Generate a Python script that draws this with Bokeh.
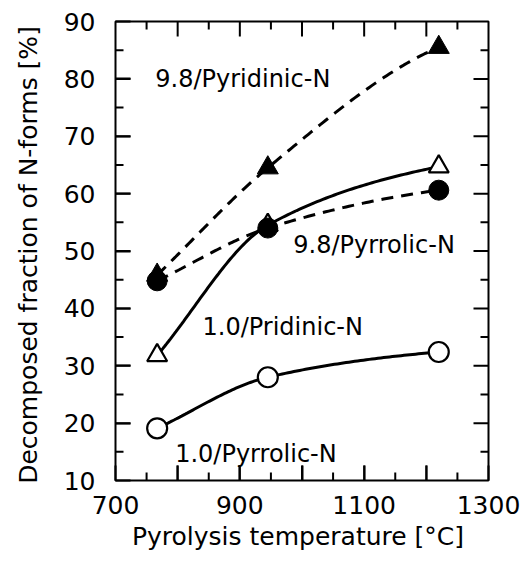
import numpy as np
from bokeh.plotting import figure
from bokeh.models import FixedTicker, Range1d, Label, BoxAnnotation
from bokeh.embed import file_html
from bokeh.resources import INLINE

# ---- data ----
temps = [767, 945, 1220]
pyridinic_98 = [45.8, 64.5, 85.5]
pyrrolic_98 = [44.8, 54.0, 60.6]
pyridinic_10 = [31.8, 54.5, 64.7]
pyrrolic_10 = [19.1, 28.0, 32.4]

series_names = ["9.8/Pyridinic-N", "9.8/Pyrrolic-N", "1.0/Pridinic-N", "1.0/Pyrrolic-N"]

x_major = [700, 800, 900, 1000, 1100, 1200, 1300]
x_minor = [750, 850, 950, 1050, 1150, 1250]
x_labels = ["700", "", "900", "", "1100", "", "1300"]
y_major = [10, 20, 30, 40, 50, 60, 70, 80, 90]
y_minor = [15, 25, 35, 45, 55, 65, 75, 85]
y_labels = ["10", "20", "30", "40", "50", "60", "70", "80", "90"]

# label anchors (data coords, left/baseline)
label_pos = [(764, 80.0), (986, 51.0), (840, 36.7), (796, 14.7)]

FONT = "DejaVu Sans"
W, H = 522, 570
BL, BR, BT, BB = 115, 34, 21, 90


def smooth(x, y, n=60):
    """Monotone cubic Hermite curve through the points (secant slopes at the ends)."""
    x = np.asarray(x, float)
    y = np.asarray(y, float)
    h = np.diff(x)
    d = np.diff(y) / h
    m = np.zeros_like(y)
    for k in range(1, len(x) - 1):
        if d[k - 1] * d[k] > 0:
            w1 = 2 * h[k] + h[k - 1]
            w2 = h[k] + 2 * h[k - 1]
            m[k] = (w1 + w2) / (w1 / d[k - 1] + w2 / d[k])
    m[0] = d[0]
    m[-1] = d[-1] * 0.6
    xs, ys = [], []
    t = np.linspace(0, 1, n)
    h00 = 2 * t**3 - 3 * t**2 + 1
    h10 = t**3 - 2 * t**2 + t
    h01 = -2 * t**3 + 3 * t**2
    h11 = t**3 - t**2
    for k in range(len(h)):
        xs.extend([float(v) for v in x[k] + t * h[k]])
        ys.extend([float(v) for v in h00 * y[k] + h10 * h[k] * m[k] + h01 * y[k + 1] + h11 * h[k] * m[k + 1]])
    return xs, ys


XS, XE, YS, YE = 700, 1300, 10, 90
p = figure(width=W, height=H, x_range=Range1d(XS, XE), y_range=Range1d(YS, YE),
           output_backend="svg", toolbar_location=None,
           min_border_left=BL, min_border_right=BR, min_border_top=BT, min_border_bottom=BB)
p.grid.visible = False
p.outline_line_color = "black"
p.outline_line_width = 2

for ax, ticks, labels in [(p.xaxis[0], x_major, x_labels), (p.yaxis[0], y_major, y_labels)]:
    ax.ticker = FixedTicker(ticks=ticks)
    ax.major_label_overrides = {t: l for t, l in zip(ticks, labels) if l != str(t)}
    ax.major_tick_in = 15
    ax.major_tick_out = 0
    ax.minor_tick_in = 0
    ax.minor_tick_out = 0
    ax.major_tick_line_color = "black"
    ax.major_tick_line_width = 2
    ax.axis_line_color = "black"
    ax.major_label_text_font = FONT
    ax.major_label_text_font_size = "25px"
    ax.major_label_text_color = "black"
    ax.axis_label_text_font = FONT
    ax.axis_label_text_font_size = "25px"
    ax.axis_label_text_font_style = "normal"
    ax.axis_label_text_color = "black"

p.xaxis.axis_label = "Pyrolysis temperature  [°C]"
p.yaxis.axis_label = "Decomposed fraction of N-forms  [%]"
p.xaxis.major_label_standoff = 15
p.yaxis.major_label_standoff = 20
p.xaxis.axis_label_standoff = 5
p.yaxis.axis_label_standoff = 18

# curves
for ys, dash in [(pyridinic_98, "12 8"), (pyrrolic_98, "12 8"), (pyridinic_10, "solid"), (pyrrolic_10, "solid")]:
    cx, cy = smooth(temps, ys)
    p.line(cx, cy, line_color="black", line_width=3, line_dash=dash)

# markers
p.scatter(temps, pyridinic_10, marker="triangle", size=20, fill_color="white", line_color="black", line_width=2.2)
p.scatter(temps, pyridinic_98, marker="triangle", size=21, fill_color="black", line_color="black", line_width=1)
p.scatter(temps, pyrrolic_98, marker="circle", size=20, fill_color="black", line_color="black", line_width=1)
p.scatter(temps, pyrrolic_10, marker="circle", size=20, fill_color="white", line_color="black", line_width=2.2)

# inward tick marks on all four sides, as thin filled boxes
# (tick length and thickness converted from pixels to data units)
fw, fh = W - BL - BR, H - BT - BB
dx = (XE - XS) / fw
dy = (YE - YS) / fh
TH = 1.0  # half thickness in px


def tick_box(left, right, bottom, top):
    p.add_layout(BoxAnnotation(left=left, right=right, bottom=bottom, top=top,
                               fill_color="black", fill_alpha=1.0, line_color=None,
                               level="annotation"))


for length, xt, yt in [(15, x_major, y_major), (8, x_minor, y_minor)]:
    for v in xt:
        if v in (XS, XE):
            continue
        tick_box(v - TH * dx, v + TH * dx, YS, YS + length * dy)
        tick_box(v - TH * dx, v + TH * dx, YE - length * dy, YE)
    for v in yt:
        if v in (YS, YE):
            continue
        tick_box(XS, XS + length * dx, v - TH * dy, v + TH * dy)
        tick_box(XE - length * dx, XE, v - TH * dy, v + TH * dy)

for name, (lx, ly) in zip(series_names, label_pos):
    p.add_layout(Label(x=lx, y=ly, text=name, text_font=FONT, text_font_size="24px",
                       text_color="black", text_align="left", text_baseline="alphabetic"))

open("out.html", "w").write(file_html(p, INLINE))
